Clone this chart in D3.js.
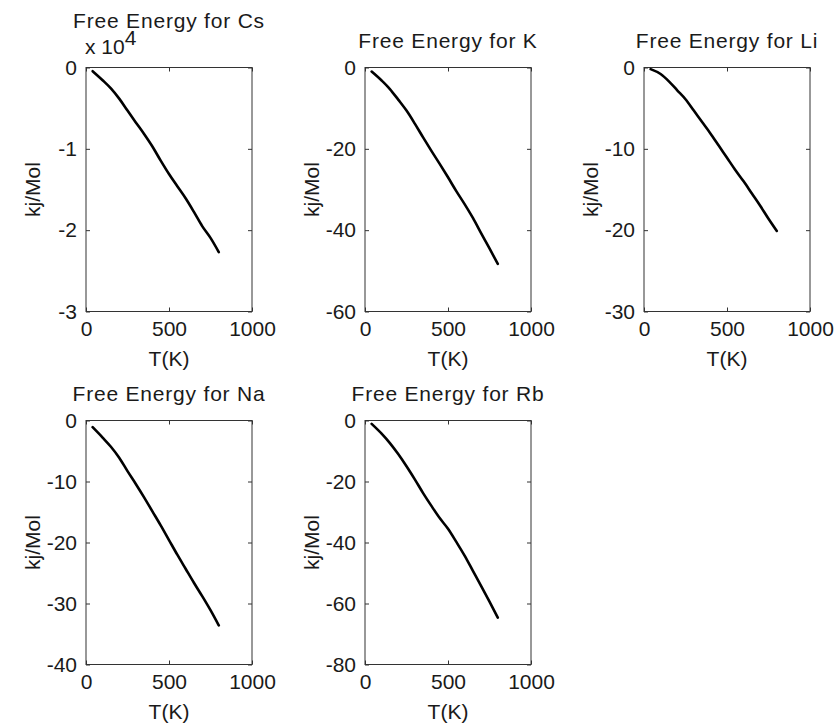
<!DOCTYPE html>
<html>
<head>
<meta charset="utf-8">
<script src="https://cdn.jsdelivr.net/npm/d3@7"></script>
<style>
  body { margin: 0; background: #fff; }
  svg { display: block; font-family: "Liberation Sans", Arial, sans-serif; }
  .tick text { font-size: 21px; fill: #1a1a1a; }
  .lbl { font-size: 21px; fill: #1a1a1a; }
  .title { letter-spacing: 0.8px; }
</style>
</head>
<body>
<svg id="chart" width="836" height="727"></svg>
<script>
///////////////////////////////////////////////////////////
// Data
const temps = [40, 100, 150, 200, 250, 300, 350, 400, 450, 500, 550, 600, 650, 700, 750, 800];

const csEnergy = [-450, -1560, -2570, -3830, -5300, -6750, -8180, -9720, -11450, -13100, -14600, -16080, -17750, -19500, -20950, -22700];
const kEnergy  = [-1.0, -3.2, -5.3, -7.9, -10.6, -13.8, -17.2, -20.5, -23.7, -27.0, -30.4, -33.6, -37.0, -40.8, -44.5, -48.3];
const liEnergy = [-0.2, -0.8, -1.7, -2.8, -3.9, -5.3, -6.7, -8.1, -9.6, -11.1, -12.6, -14.0, -15.5, -17.0, -18.6, -20.1];
const naEnergy = [-1.1, -2.8, -4.3, -6.1, -8.3, -10.4, -12.6, -14.9, -17.2, -19.6, -22.0, -24.3, -26.6, -28.8, -31.1, -33.6];
const rbEnergy = [-1.1, -4.3, -7.4, -11.0, -15.0, -19.3, -23.8, -28.0, -32.0, -35.5, -39.8, -44.3, -49.3, -54.3, -59.4, -64.6];

const elements = ["Cs", "K", "Li", "Na", "Rb"];
const xTicks = [0, 500, 1000];
const yTicksCs = [-30000, -20000, -10000, 0];
const yTicksK  = [-60, -40, -20, 0];
const yTicksLi = [-30, -20, -10, 0];
const yTicksNa = [-40, -30, -20, -10, 0];
const yTicksRb = [-80, -60, -40, -20, 0];

///////////////////////////////////////////////////////////
// Layout

const colLeft = [86, 365, 644];
const rowTop = [67.5, 420.5];
const plotW = 166, plotH = 244;

const panels = [
  { name: elements[0], values: csEnergy, ticks: yTicksCs, exp: 4 },
  { name: elements[1], values: kEnergy, ticks: yTicksK },
  { name: elements[2], values: liEnergy, ticks: yTicksLi },
  { name: elements[3], values: naEnergy, ticks: yTicksNa },
  { name: elements[4], values: rbEnergy, ticks: yTicksRb },
];

const svg = d3.select("#chart");

panels.forEach(function (p, i) {
  const left = colLeft[i % 3];
  const top = rowTop[Math.floor(i / 3)];
  const g = svg.append("g").attr("transform", `translate(${left},${top})`);

  const x = d3.scaleLinear().domain([0, 1000]).range([0, plotW]);
  const y = d3.scaleLinear().domain([d3.min(p.ticks), 0]).range([plotH, 0]);
  const scale = p.exp ? Math.pow(10, p.exp) : 1;
  const fmt = d => String(Math.round(d / scale));

  // Axes with inward ticks on all four sides
  g.append("g")
    .attr("transform", `translate(0,${plotH})`)
    .call(d3.axisBottom(x).tickValues(xTicks).tickSize(-4).tickSizeOuter(0).tickPadding(10).tickFormat(d => String(d)));
  g.append("g")
    .call(d3.axisTop(x).tickValues(xTicks).tickSize(-4).tickSizeOuter(0).tickFormat(""));
  g.append("g")
    .call(d3.axisLeft(y).tickValues(p.ticks).tickSize(-4).tickSizeOuter(0).tickPadding(9).tickFormat(fmt));
  g.append("g")
    .attr("transform", `translate(${plotW},0)`)
    .call(d3.axisRight(y).tickValues(p.ticks).tickSize(-4).tickSizeOuter(0).tickFormat(""));

  g.selectAll(".domain").remove();
  g.selectAll(".tick line").attr("stroke", "#333");
  g.selectAll(".tick text").attr("fill", "#1a1a1a").style("font-size", "21px");

  g.append("rect")
    .attr("width", plotW)
    .attr("height", plotH)
    .attr("fill", "none")
    .attr("stroke", "#333")
    .attr("stroke-width", 1);

  // Curve
  const line = d3.line()
    .x((d, k) => x(temps[k]))
    .y(d => y(d))
    .curve(d3.curveMonotoneX);
  g.append("path")
    .datum(p.values)
    .attr("fill", "none")
    .attr("stroke", "#000")
    .attr("stroke-width", 2.6)
    .attr("stroke-linejoin", "round")
    .attr("stroke-linecap", "round")
    .attr("d", line);

  // Title
  g.append("text")
    .attr("class", "lbl title")
    .attr("x", plotW / 2)
    .attr("y", p.exp ? -39.5 : -20)
    .attr("text-anchor", "middle")
    .text("Free Energy for " + p.name);

  // Exponent label (x 10^4)
  if (p.exp) {
    const t = g.append("text").attr("class", "lbl").attr("x", -1).attr("y", -13.5);
    t.append("tspan").text("x 10");
    t.append("tspan").attr("dy", -9).text(p.exp);
  }

  // Axis labels
  g.append("text")
    .attr("class", "lbl")
    .attr("x", plotW / 2)
    .attr("y", plotH + 54)
    .attr("text-anchor", "middle")
    .text("T(K)");
  g.append("text")
    .attr("class", "lbl")
    .attr("transform", `translate(-46,${plotH / 2}) rotate(-90)`)
    .attr("text-anchor", "middle")
    .text("kj/Mol");
});
</script>
</body>
</html>
